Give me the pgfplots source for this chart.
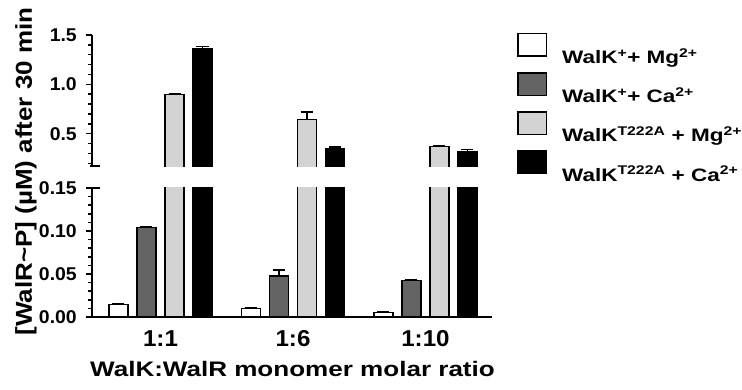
\documentclass[border=0pt]{standalone}
\usepackage{fontspec}
\setmainfont{Liberation Sans}
\newfontfamily\ylabfont[FakeStretch=1.13]{Liberation Sans}
\newfontfamily\xlabfont[FakeStretch=1.24]{Liberation Sans}
\newfontfamily\legfont[FakeStretch=1.25]{Liberation Sans}
\newfontfamily\tickfont[FakeStretch=1.05]{Liberation Sans}
\usepackage{pgfplots}
\usepackage{pgfplotstable}
\pgfplotsset{compat=1.18}
\definecolor{dgray}{HTML}{646464}
\definecolor{lgray}{HTML}{D3D3D3}

\pgfplotstableread{
x w werr d derr l lerr b berr
0 0.0148 0.001 0.104 0.001 0.899 0.003 1.365 0.016
1 0.0097 0.001 0.0477 0.007 0.642 0.080 0.345 0.020
2 0.0055 0.001 0.0427 0.001 0.368 0.014 0.318 0.020
}\data

% scale factor of the upper (compressed) segment of the broken y axis
\def\upk{0.11477}

\pgfplotsset{
  errs/.style={error bars/.cd, y dir=plus, y explicit,
    error bar style={line width=1.5pt, black},
    error mark options={rotate=90, line width=1.5pt, mark size=6pt, black}},
}

\begin{document}
\begin{tikzpicture}
\useasboundingbox (0,0) rectangle (742pt,390pt);

\begin{axis}[
  scale only axis, width=400pt, height=282pt,
  at={(92pt,73pt)}, anchor=south west,
  xmin=-0.517, xmax=2.502,
  % broken y scale: 0..0.15 below, 0.173..1.5 above (compressed)
  y coord trafo/.code={\pgfmathparse{#1<=0.15 ? #1 : (#1<0.173 ? 0.15+(#1-0.15)*1.1122 : 0.17558+(#1-0.173)*\upk)}},
  ymin=0, ymax=1.5,
  ybar, bar width=19pt,
  axis x line*=bottom, axis y line*=left,
  axis line style={line width=1.5pt},
  tick align=outside,
  major tick length=6pt, minor tick length=4pt,
  every tick/.style={black, line width=1.5pt},
  ytick={0,0.05,0.10,0.15,0.5,1.0,1.5},
  yticklabels={0.00,0.05,0.10,0.15,0.5,1.0,1.5},
  minor ytick={0.01,0.02,0.03,0.04,0.06,0.07,0.08,0.09,0.11,0.12,0.13,0.14,0.2,0.3,0.4,0.6,0.7,0.8,0.9,1.1,1.2,1.3,1.4},
  yticklabel style={font=\tickfont\bfseries\fontsize{18.5}{20}\selectfont, anchor=east, inner sep=0pt, xshift=-9pt},
  xtick={0,1,2}, xticklabels={1:1,1:6,1:10},
  xtick style={draw=none},
  xticklabel style={font=\tickfont\bfseries\fontsize{23}{27}\selectfont, anchor=base, inner sep=0pt, yshift=-23.5pt},
  every axis plot/.append style={line width=1.5pt, draw=black},
  legend cell align=left,
  legend image code/.code={\draw[#1, line width=1.5pt] (0.75pt,0.75pt) rectangle (29.25pt,23.25pt);},
  legend style={at={(1.0625,1.0078)}, anchor=north west, draw=none, fill=none,
    inner sep=0pt, row sep=6.8pt, column sep=15pt,
    font=\legfont\bfseries\fontsize{18}{22}\selectfont,
    nodes={inner sep=0pt}},
]
\addplot[fill=white, bar shift=-42pt, errs] table[x=x, y=w, y error=werr] {\data};
\addlegendentry{WalK\textsuperscript{+}+ Mg\textsuperscript{2+}}
\addplot[fill=dgray, bar shift=-14pt, errs] table[x=x, y=d, y error=derr] {\data};
\addlegendentry{WalK\textsuperscript{+}+ Ca\textsuperscript{2+}}
% these bars lie on the upper segment: their error lengths are drawn in its compressed scale
\addplot[fill=lgray, bar shift=14pt, errs] table[x=x, y=l, y error expr=\thisrow{lerr}*\upk] {\data};
\addlegendentry{WalK\textsuperscript{T222A} + Mg\textsuperscript{2+}}
\addplot[fill=black, bar shift=42pt, errs] table[x=x, y=b, y error expr=\thisrow{berr}*\upk] {\data};
\addlegendentry{WalK\textsuperscript{T222A} + Ca\textsuperscript{2+}}
\end{axis}

% axis break: gap between 0.15 (y=202pt) and the upper segment start (y=224pt)
\fill[white] (84pt,202.75pt) rectangle (500pt,223.25pt);
\draw[line width=1.5pt] (91.25pt,202pt) -- (100pt,202pt);
\draw[line width=1.5pt] (90pt,224pt) -- (100pt,224pt);

% axis titles
\node[rotate=90, inner sep=0pt, font=\ylabfont\bfseries\fontsize{23}{27}\selectfont] at (26pt,218.5pt) {[WalR\textasciitilde P] (µM) after 30 min};
\node[anchor=base, inner sep=0pt, font=\xlabfont\bfseries\fontsize{21}{25}\selectfont] at (292.5pt,13.3pt) {WalK:WalR monomer molar ratio};
\end{tikzpicture}
\end{document}
